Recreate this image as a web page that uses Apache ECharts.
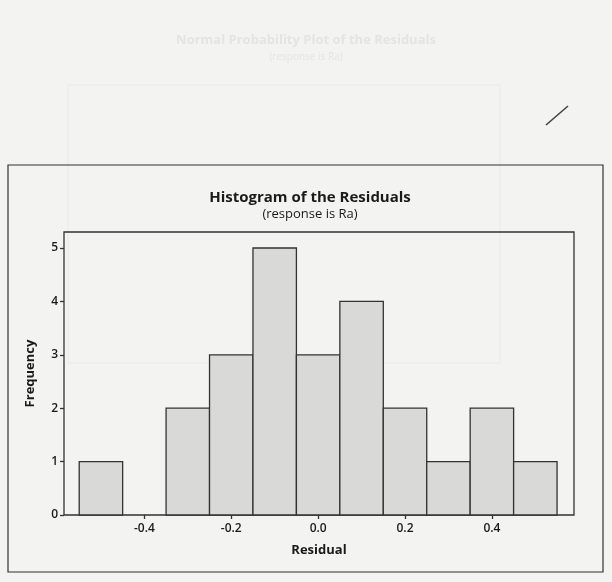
<!DOCTYPE html>
<html>
<head>
<meta charset="utf-8">
<script src="https://cdn.jsdelivr.net/npm/echarts@6/dist/echarts.min.js"></script>
<style>
html,body{margin:0;padding:0;background:#f3f3f2;}
#c{width:612px;height:582px;}
</style>
</head>
<body>
<div id="c"></div>
<script>
// Data
var binCenters = [-0.5, -0.4, -0.3, -0.2, -0.1, 0.0, 0.1, 0.2, 0.3, 0.4, 0.5];
var frequencies = [1, 0, 2, 3, 5, 3, 4, 2, 1, 2, 1];
var binWidth = 0.1;
var xTickValues = [-0.4, -0.2, 0.0, 0.2, 0.4];
var yTickValues = [0, 1, 2, 3, 4, 5];

var chart = echarts.init(document.getElementById('c'), null, {renderer: 'canvas'});
var data = binCenters.map(function (c, i) {
  return [c - binWidth / 2, c + binWidth / 2, frequencies[i]];
});

var option = {
  backgroundColor: '#f3f3f2',
  animation: false,
  title: {
    text: 'Histogram of the Residuals',
    subtext: '(response is Ra)',
    left: 305, top: 185, textAlign: 'center',
    itemGap: 3,
    textStyle: {fontFamily: 'Open Sans', fontWeight: 'bold', fontSize: 15, color: '#1a1a1a'},
    subtextStyle: {fontFamily: 'Open Sans', fontSize: 13, color: '#1a1a1a'}
  },
  grid: {
    left: 64, right: 38, top: 232, bottom: 67,
    show: true, borderColor: '#333', borderWidth: 1.3, backgroundColor: 'transparent'
  },
  xAxis: {
    type: 'value', min: -0.585, max: 0.589,
    name: 'Residual', nameLocation: 'middle', nameGap: 29,
    nameTextStyle: {fontFamily: 'Open Sans', fontWeight: 'bold', fontSize: 13, color: '#1a1a1a'},
    axisLine: {show: false, onZero: false},
    splitLine: {show: false},
    axisTick: {show: true, length: 4, customValues: xTickValues, lineStyle: {color: '#333', width: 1.3}},
    axisLabel: {customValues: xTickValues, margin: 8, fontFamily: 'Open Sans', fontWeight: 600, fontSize: 12, color: '#1a1a1a',
      formatter: function (v) { return v.toFixed(1); }}
  },
  yAxis: {
    type: 'value', min: 0, max: 5.3,
    name: 'Frequency', nameLocation: 'middle', nameGap: 27,
    nameTextStyle: {fontFamily: 'Open Sans', fontWeight: 'bold', fontSize: 13, color: '#1a1a1a'},
    axisLine: {show: false, onZero: false},
    splitLine: {show: false},
    axisTick: {show: true, length: 4, customValues: yTickValues, lineStyle: {color: '#333', width: 1.3}},
    axisLabel: {customValues: yTickValues, margin: 6, fontFamily: 'Open Sans', fontWeight: 600, fontSize: 12, color: '#1a1a1a'}
  },
  graphic: [
    {type: 'rect', shape: {x: 8, y: 165, width: 595, height: 407}, silent: true,
      style: {fill: 'transparent', stroke: '#333', lineWidth: 1.2}, z: -1},
    {type: 'text', left: 'center', top: 34, silent: true,
      style: {text: 'Normal Probability Plot of the Residuals', font: 'bold 13px "Open Sans"', fill: '#e4e4e4'}},
    {type: 'text', left: 'center', top: 52, silent: true,
      style: {text: '(response is Ra)', font: '10px "Open Sans"', fill: '#e4e4e4'}},
    {type: 'rect', shape: {x: 68, y: 85, width: 432, height: 278}, silent: true, z: -2,
      style: {fill: 'transparent', stroke: '#e8e8e8', lineWidth: 1}},
    {type: 'line', shape: {x1: 546, y1: 125, x2: 568, y2: 106}, silent: true,
      style: {stroke: '#444', lineWidth: 1.6}}
  ],
  series: [{
    type: 'custom',
    data: data,
    encode: {x: [0, 1], y: 2},
    renderItem: function (params, api) {
      var lo = api.value(0), hi = api.value(1), f = api.value(2);
      if (f <= 0) return null;
      var p0 = api.coord([lo, f]);
      var p1 = api.coord([hi, 0]);
      return {
        type: 'rect',
        shape: {x: p0[0], y: p0[1], width: p1[0] - p0[0], height: p1[1] - p0[1]},
        style: {fill: '#d9d9d8', stroke: '#333', lineWidth: 1.3}
      };
    }
  }]
};
chart.setOption(option);
</script>
</body>
</html>
